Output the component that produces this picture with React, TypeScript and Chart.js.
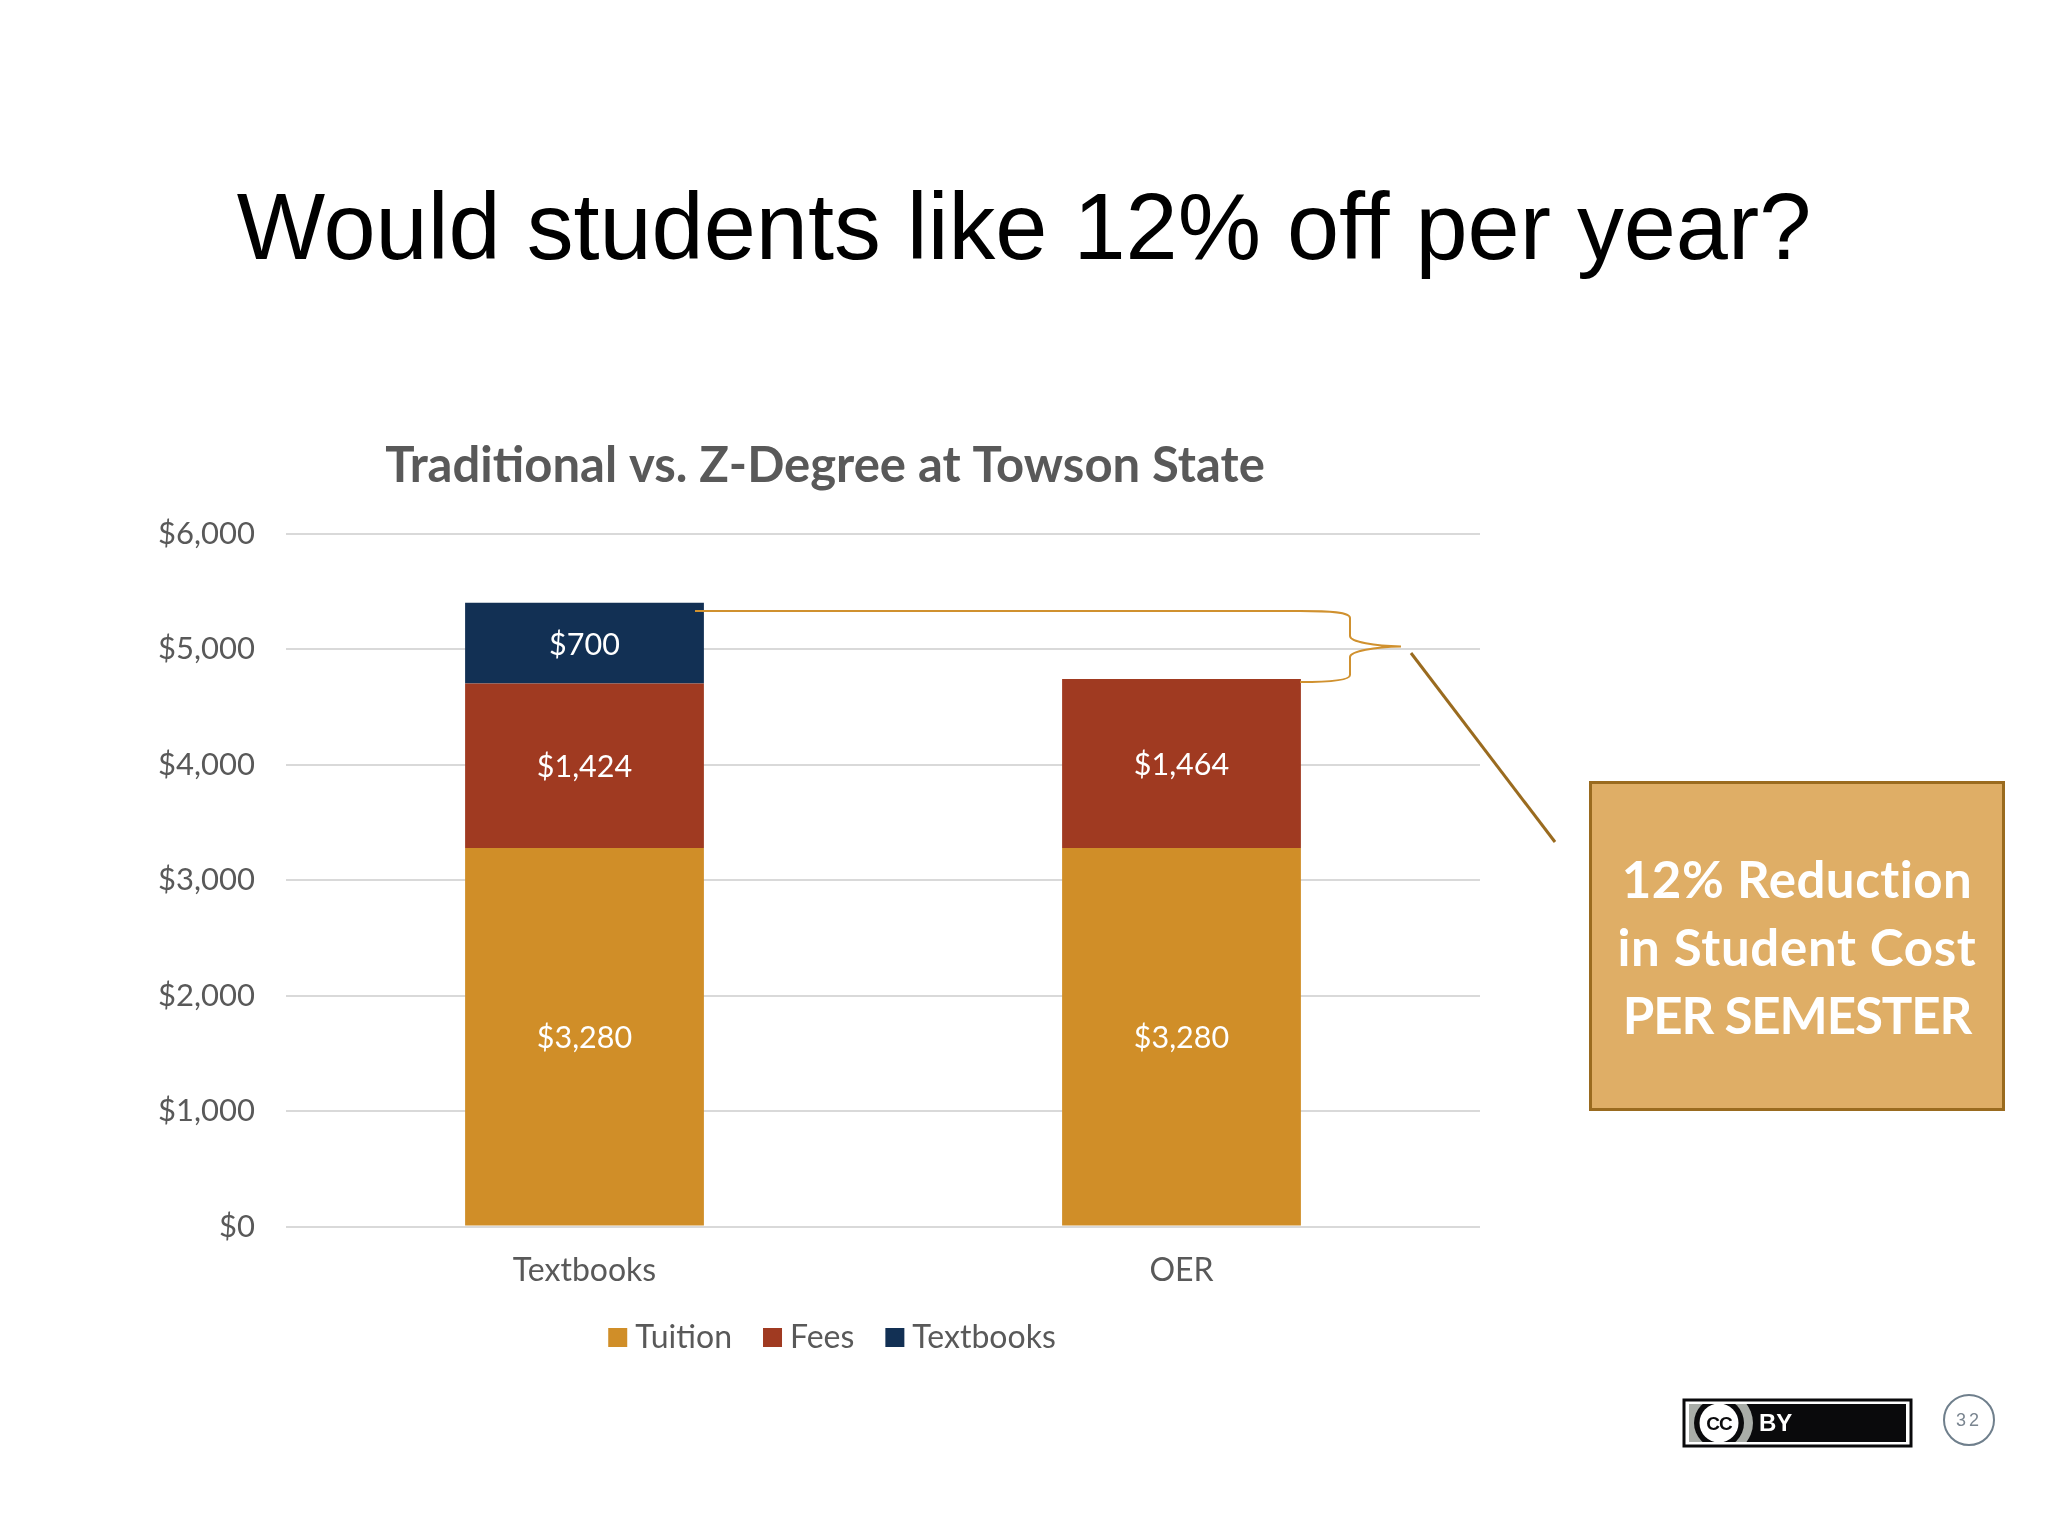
import React, { useEffect, useRef } from "react";
import { Chart, registerables } from "chart.js";

Chart.register(...registerables);

const categories = ["Textbooks", "OER"];
const tuition = [3280, 3280];
const fees = [1424, 1464];
const textbooks = [700, null];
const seriesNames = ["Tuition", "Fees", "Textbooks"];
const seriesColors = ["#D08E28", "#A03A21", "#123054"];
const chartTitle = "Traditional vs. Z-Degree at Towson State";
const slideTitle = "Would students like 12% off per year?";
const calloutLines = ["12% Reduction", "in Student Cost", "PER SEMESTER"];
const calloutTracking = [0.5, 0.7, -1.1];
const pageNumber = "32";

const LATO = "Lato, Carlito, Calibri, sans-serif";
const ARIAL = "'Liberation Sans', Arial, sans-serif";
const money = (v: number) => "$" + Number(v).toLocaleString("en-US");

const segmentLabels = {
  id: "segmentLabels",
  afterDatasetsDraw(chart: any) {
    const { ctx } = chart;
    ctx.save();
    ctx.fillStyle = "#FFFFFF";
    ctx.font = `30.5px ${LATO}`;
    ctx.textAlign = "center";
    ctx.textBaseline = "middle";
    chart.data.datasets.forEach((ds: any, i: number) => {
      chart.getDatasetMeta(i).data.forEach((bar: any, j: number) => {
        const v = ds.data[j];
        if (v == null) return;
        ctx.fillText(money(v), bar.x, (bar.y + bar.base) / 2 + 1.5);
      });
    });
    ctx.restore();
  },
};

const nudgeBlocks = {
  id: "nudgeBlocks",
  afterLayout(chart: any) {
    if (chart.titleBlock) {
      chart.titleBlock.left += 10;
      chart.titleBlock.right += 10;
    }
    if (chart.legend) {
      chart.legend.left += 21;
      chart.legend.right += 21;
    }
  },
};

export default function App() {
  const ref = useRef<HTMLCanvasElement | null>(null);
  useEffect(() => {
    const chart = new Chart(ref.current as HTMLCanvasElement, {
      type: "bar",
      data: {
        labels: categories,
        datasets: [tuition, fees, textbooks].map((data, i) => ({
          label: seriesNames[i],
          data,
          backgroundColor: seriesColors[i],
          barPercentage: 0.4,
          categoryPercentage: 1,
        })),
      },
      plugins: [segmentLabels, nudgeBlocks],
      options: {
        responsive: false,
        animation: false,
        devicePixelRatio: 1,
        layout: { padding: { left: 150, right: 568, top: 436.6, bottom: 172.5 } },
        plugins: {
          tooltip: { enabled: false },
          title: {
            display: true,
            text: chartTitle,
            color: "#595959",
            font: { family: LATO, size: 49, weight: "bold" },
            padding: { top: 0, bottom: 38.6 },
          },
          legend: {
            position: "bottom",
            labels: {
              color: "#595959",
              font: { family: LATO, size: 32 },
              boxWidth: 3,
              boxHeight: 3,
              padding: 39,
              generateLabels: () =>
                seriesNames.map((text, i) => ({
                  text,
                  fillStyle: seriesColors[i],
                  strokeStyle: seriesColors[i],
                  lineWidth: 16,
                  fontColor: "#595959",
                  datasetIndex: i,
                })),
            },
          },
        },
        scales: {
          x: {
            stacked: true,
            grid: { display: false },
            border: { display: false },
            ticks: { color: "#595959", font: { family: LATO, size: 32 }, padding: 17 },
            afterFit(scale: any) {
              scale.height = 56;
            },
          },
          y: {
            stacked: true,
            min: 0,
            max: 6000,
            grid: { color: "#D9D9D9", lineWidth: 2, drawTicks: false },
            border: { display: false },
            ticks: {
              stepSize: 1000,
              color: "#595959",
              font: { family: LATO, size: 31 },
              padding: 31,
              callback: (v: any) => money(v),
            },
            afterFit(scale: any) {
              scale.width = 136;
            },
          },
        },
      },
    } as any);
    return () => chart.destroy();
  }, []);

  const abs: React.CSSProperties = { position: "absolute" };
  return (
    <div style={{ ...abs, left: 0, top: 0, width: 2048, height: 1536, background: "#fff", overflow: "hidden" }}>
      <canvas ref={ref} width={2048} height={1536} style={{ ...abs, left: 0, top: 0, width: 2048, height: 1536 }} />
      <div
        style={{
          ...abs, left: 0, width: 2048, top: 167, textAlign: "center", lineHeight: "120px",
          fontFamily: ARIAL, fontSize: 93.7, color: "#000", whiteSpace: "nowrap",
        }}
      >
        {slideTitle}
      </div>
      <svg width={2048} height={1536} style={{ ...abs, left: 0, top: 0 }}>
        <path
          d="M695 611 H1300 C1330 611 1350 612 1350 618 V636 C1350 642 1375 646 1401 646.5 C1375 647 1350 651 1350 657 V675 C1350 680 1330 682 1300 682"
          fill="none" stroke="#D0912F" strokeWidth={2}
        />
        <line x1={1411} y1={653} x2={1555} y2={842} stroke="#9A6B1F" strokeWidth={3} />
        <defs>
          <clipPath id="badge"><rect x={1689} y={1404} width={217} height={38} /></clipPath>
        </defs>
        <rect x={1684} y={1400} width={227} height={46} fill="#fff" stroke="#0A0A0C" strokeWidth={3} />
        <g clipPath="url(#badge)">
          <rect x={1689} y={1404} width={217} height={38} fill="#0A0A0C" />
          <rect x={1689} y={1404} width={40} height={38} fill="#A9ADA8" />
          <circle cx={1722} cy={1423} r={31} fill="#A9ADA8" />
          <circle cx={1719} cy={1423} r={25} fill="#0A0A0C" />
          <circle cx={1719} cy={1423} r={19.5} fill="#fff" />
        </g>
        <text x={1719} y={1430} textAnchor="middle" fontFamily={ARIAL} fontWeight="bold" fontSize={19} fill="#0A0A0C" letterSpacing={-1}>CC</text>
        <text x={1759} y={1431} fontFamily={ARIAL} fontWeight="bold" fontSize={24} fill="#fff">BY</text>
        <circle cx={1969} cy={1420} r={25} fill="#fff" stroke="#6F7F8C" strokeWidth={2} />
        <text x={1969} y={1426} textAnchor="middle" fontFamily={ARIAL} fontSize={18} fill="#7A8590" letterSpacing={3}>{pageNumber}</text>
      </svg>
      <div
        style={{
          ...abs, left: 1589, top: 781, width: 416, height: 330, boxSizing: "border-box",
          background: "#DFAE66", border: "3px solid #9A6B1F", color: "#fff",
          fontFamily: LATO, fontWeight: 700, fontSize: 51, lineHeight: "68px",
          textAlign: "center", paddingTop: 61,
        }}
      >
        {calloutLines.map((l, i) => (
          <div key={l} style={{ letterSpacing: calloutTracking[i] }}>{l}</div>
        ))}
      </div>
    </div>
  );
}
